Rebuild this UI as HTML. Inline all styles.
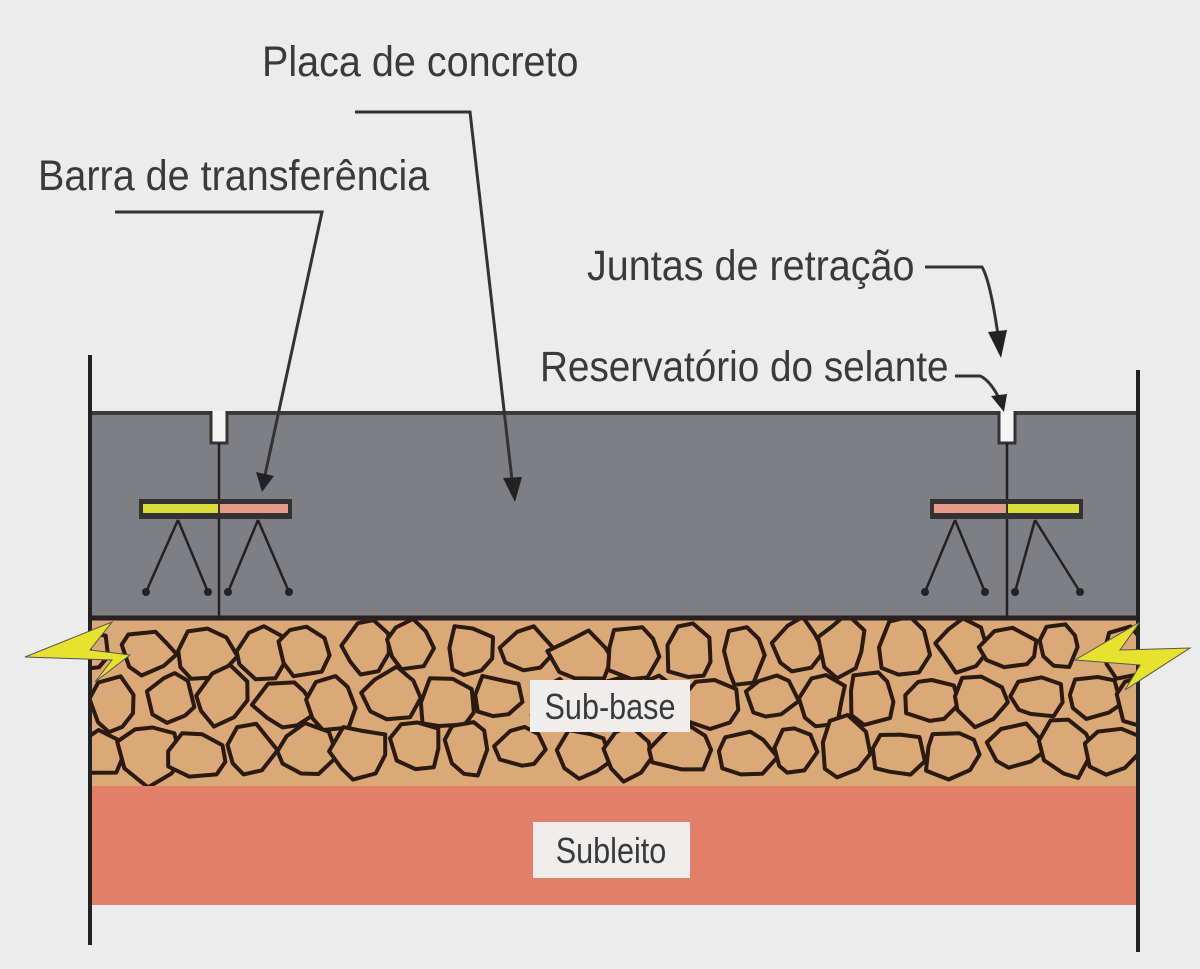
<!DOCTYPE html>
<html><head><meta charset="utf-8"><style>
body{margin:0;background:#ececec;}
svg{display:block}
text{font-family:"Liberation Sans",sans-serif;fill:#3a3a3a;}
</style></head><body>
<svg id="s" width="1200" height="969" viewBox="0 0 1200 969" xmlns="http://www.w3.org/2000/svg">
<defs><clipPath id="cp"><rect x="90" y="618" width="1048" height="168"/></clipPath></defs>
<rect width="1200" height="969" fill="#ececec"/>
<rect x="90" y="785" width="1048" height="120" fill="#e3806a"/>
<rect x="90" y="618" width="1048" height="168" fill="#dba878"/>
<g id="stones" clip-path="url(#cp)" fill="#dba878" stroke="#2a1a10" stroke-width="4" stroke-linejoin="round"></g>
<rect x="90" y="412" width="1048" height="206" fill="#7d7f85"/>
<line x1="90" y1="413" x2="1138" y2="413" stroke="#3a3a3a" stroke-width="4"/>
<line x1="90" y1="618" x2="1138" y2="618" stroke="#2a2020" stroke-width="5"/>
<path d="M211 411 V443 H227 V411" fill="#f4f4f4" stroke="#333" stroke-width="3"/>
<path d="M999 411 V443 H1015 V411" fill="#f4f4f4" stroke="#333" stroke-width="3"/>
<line x1="219" y1="443" x2="219" y2="618" stroke="#222" stroke-width="2.5"/>
<line x1="1007" y1="443" x2="1007" y2="618" stroke="#222" stroke-width="2.5"/>
<rect x="139" y="499" width="153" height="20" fill="#333"/>
<rect x="143" y="504" width="75" height="9" fill="#dcdc3a"/>
<rect x="220" y="504" width="68" height="9" fill="#e89a88"/>
<rect x="930" y="499" width="153" height="20" fill="#333"/>
<rect x="934" y="504" width="72" height="9" fill="#e89a88"/>
<rect x="1008" y="504" width="71" height="9" fill="#dcdc3a"/>
<g stroke="#222" stroke-width="2.5" fill="none">
<path d="M178 520 L146 592 M178 520 L208 592 M258 520 L228 592 M258 520 L289 592"/>
<path d="M955 520 L925 592 M955 520 L985 592 M1035 520 L1015 592 M1035 520 L1080 592"/>
</g>
<g fill="#222"><circle cx="146" cy="592" r="4"/><circle cx="208" cy="592" r="4"/><circle cx="228" cy="592" r="4"/><circle cx="289" cy="592" r="4"/>
<circle cx="925" cy="592" r="4"/><circle cx="985" cy="592" r="4"/><circle cx="1015" cy="592" r="4"/><circle cx="1080" cy="592" r="4"/></g>
<line x1="90" y1="355" x2="90" y2="945" stroke="#222" stroke-width="4"/>
<line x1="1138" y1="370" x2="1138" y2="952" stroke="#222" stroke-width="4"/>
<path d="M25 657 L112 622 L90 650 L130 655 L95 682 L112 660 Z" fill="#e6e22e" stroke="#555" stroke-width="1"/>
<path d="M1075 660 L1140 622 L1120 650 L1190 648 L1125 690 L1140 665 Z" fill="#e6e22e" stroke="#555" stroke-width="1"/>
<rect x="530" y="680" width="160" height="52" fill="#f0eeec"/>
<rect x="533" y="822" width="157" height="56" fill="#f0eeec"/>
<text x="610" y="719" font-size="36" text-anchor="middle" transform="translate(610 0) scale(0.85 1) translate(-610 0)">Sub-base</text>
<text x="611" y="863" font-size="36" text-anchor="middle" transform="translate(611 0) scale(0.85 1) translate(-611 0)">Subleito</text>
<text x="262" y="76" font-size="43" transform="translate(262 0) scale(0.92 1) translate(-262 0)">Placa de concreto</text>
<text x="38" y="190" font-size="43" transform="translate(38 0) scale(0.92 1) translate(-38 0)">Barra de transferência</text>
<text x="587" y="280" font-size="43" transform="translate(587 0) scale(0.92 1) translate(-587 0)">Juntas de retração</text>
<text x="540" y="381" font-size="43" transform="translate(540 0) scale(0.9 1) translate(-540 0)">Reservatório do selante</text>
<g stroke="#333" stroke-width="3" fill="none">
<path d="M355 112 H470 L512 480"/>
<path d="M115 212 H322 L265 475"/>
<path d="M925 267 H982 Q990 280 998 335"/>
<path d="M955 376 H980 Q990 380 1000 400"/>
</g>
<g fill="#222">
<path d="M503 478 L522 477 L515 502 Z"/>
<path d="M256 472 L274 476 L262 492 Z"/>
<path d="M988 332 L1007 330 L1001 358 Z"/>
<path d="M991 396 L1007 394 L1004 412 Z"/>
</g>
</svg>
<script>
(function(){
var g=document.getElementById('stones');var seed=11;
function r(){seed=(seed*16807)%2147483647;return seed/2147483647;}
var s='';
for(var row=0;row<3;row++){for(var x=85+(row%2)*25;x<1150;x+=54){
 var cx=x+r()*14, cy=645+row*50+r()*12, rx=24+r()*10, ry=22+r()*10;
 var n=8,d='';
 for(var i=0;i<n;i++){var a=i/n*6.283+r()*0.35, k=0.75+r()*0.35;
  var px=cx+Math.cos(a)*rx*k, py=cy+Math.sin(a)*ry*k; d+=(i?'L':'M')+px.toFixed(1)+' '+py.toFixed(1);}
 s+='<path d="'+d+'Z"/>';
}}
g.innerHTML=s;
})();
</script>
</body></html>
